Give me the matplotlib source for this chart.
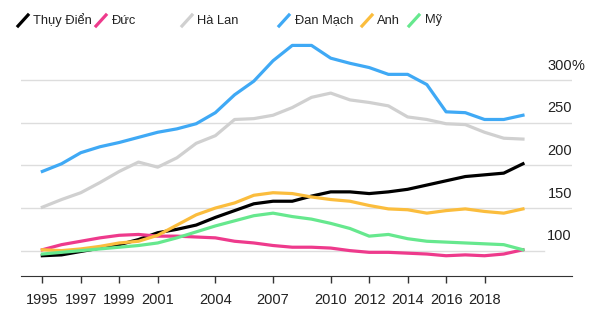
import matplotlib.pyplot as plt
from matplotlib.lines import Line2D

plt.rcParams['font.family'] = ['Liberation Sans', 'DejaVu Sans']

years = list(range(1995, 2021))

# index, 1995 = ~100
thuy_dien = [94, 95, 99, 103, 107, 113, 121, 125, 130, 139, 147, 155, 158, 158, 164, 169, 169, 167, 169, 172,
	177, 182, 187, 189, 191, 202]
duc = [101, 107, 111, 115, 118, 119, 117, 117, 116, 115, 111, 109, 106, 104, 104, 103, 100, 98, 98, 97,
	96, 94, 95, 94, 96, 101]
ha_lan = [151, 160, 168, 180, 193, 204, 198, 209, 226, 235, 254, 255, 259, 268, 280, 285, 277, 274, 270, 257,
	254, 249, 248, 239, 232, 231]
dan_mach = [193, 202, 215, 222, 227, 233, 239, 243, 249, 262, 283, 299, 323, 341, 341, 326, 320, 315, 307, 307,
	295, 263, 262, 254, 254, 259]
anh = [101, 100, 102, 105, 109, 111, 118, 130, 142, 150, 156, 165, 168, 167, 163, 160, 158, 153, 149, 148,
	144, 147, 149, 146, 144, 149]
my = [96, 98, 100, 102, 104, 106, 109, 115, 122, 129, 135, 141, 144, 140, 137, 132, 126, 117, 119, 114,
	111, 110, 109, 108, 107, 101]

labels = ["Thụy Điển", "Đức", "Hà Lan", "Đan Mạch", "Anh", "Mỹ"]
colors = ["#000000", "#ee3a8c", "#d0d0d0", "#3fa9f5", "#fbbd3d", "#66e88e"]
series = [thuy_dien, duc, ha_lan, dan_mach, anh, my]

xticks = [1995, 1997, 1999, 2001, 2004, 2007, 2010, 2012, 2014, 2016, 2018]
grid_vals = [100, 150, 200, 250, 300]

fig = plt.figure(figsize=(6, 3.26), dpi=100)
ax = fig.add_axes([21 / 600, 1 - 276 / 326, 551 / 600, 234 / 326])
ax.set_xlim(1993.89, 2022.55)
ax.set_ylim(70.2, 345)

# gridlines + right side labels
for v in grid_vals:
	xmax = 0.949 if v == 100 else 1
	ax.axhline(v, xmin=0, xmax=xmax, color="#dddddd", lw=1, zorder=0)
	ax.annotate(str(v), xy=(1, v), xycoords=("axes fraction", "data"), xytext=(0, 7.5),
		textcoords="offset points", ha="right", va="baseline", fontsize=10.5, color="#222222")
	if v == 300:
		ax.annotate("%", xy=(1, v), xycoords=("axes fraction", "data"), xytext=(0, 7.5),
			textcoords="offset points", ha="left", va="baseline", fontsize=10.5, color="#222222")

for s, c in zip(series, colors):
	ax.plot(years, s, color=c, lw=2.3)

for sp in ["left", "right", "top"]:
	ax.spines[sp].set_visible(False)
ax.spines["bottom"].set_color("#333333")
ax.set_yticks([])
ax.set_xticks(xticks)
ax.set_xticklabels([str(t) for t in xticks], fontsize=10.5, color="#222222")
ax.tick_params(axis="x", direction="out", length=5, width=1, color="#333333", pad=7)

# legend with slash markers
slash_x = [18, 96, 182, 279, 362, 409]
text_x = [33, 112, 197, 295, 377, 425]
for sx, tx, lab, c in zip(slash_x, text_x, labels, colors):
	fig.add_artist(Line2D([sx / 600, (sx + 10) / 600], [1 - 26 / 326, 1 - 15 / 326], color=c, lw=2.3,
		transform=fig.transFigure))
	fig.text(tx / 600, 1 - 20.5 / 326, lab, va="center", ha="left", fontsize=9.3, color="#222222")

fig.savefig("out.png", dpi=100)
